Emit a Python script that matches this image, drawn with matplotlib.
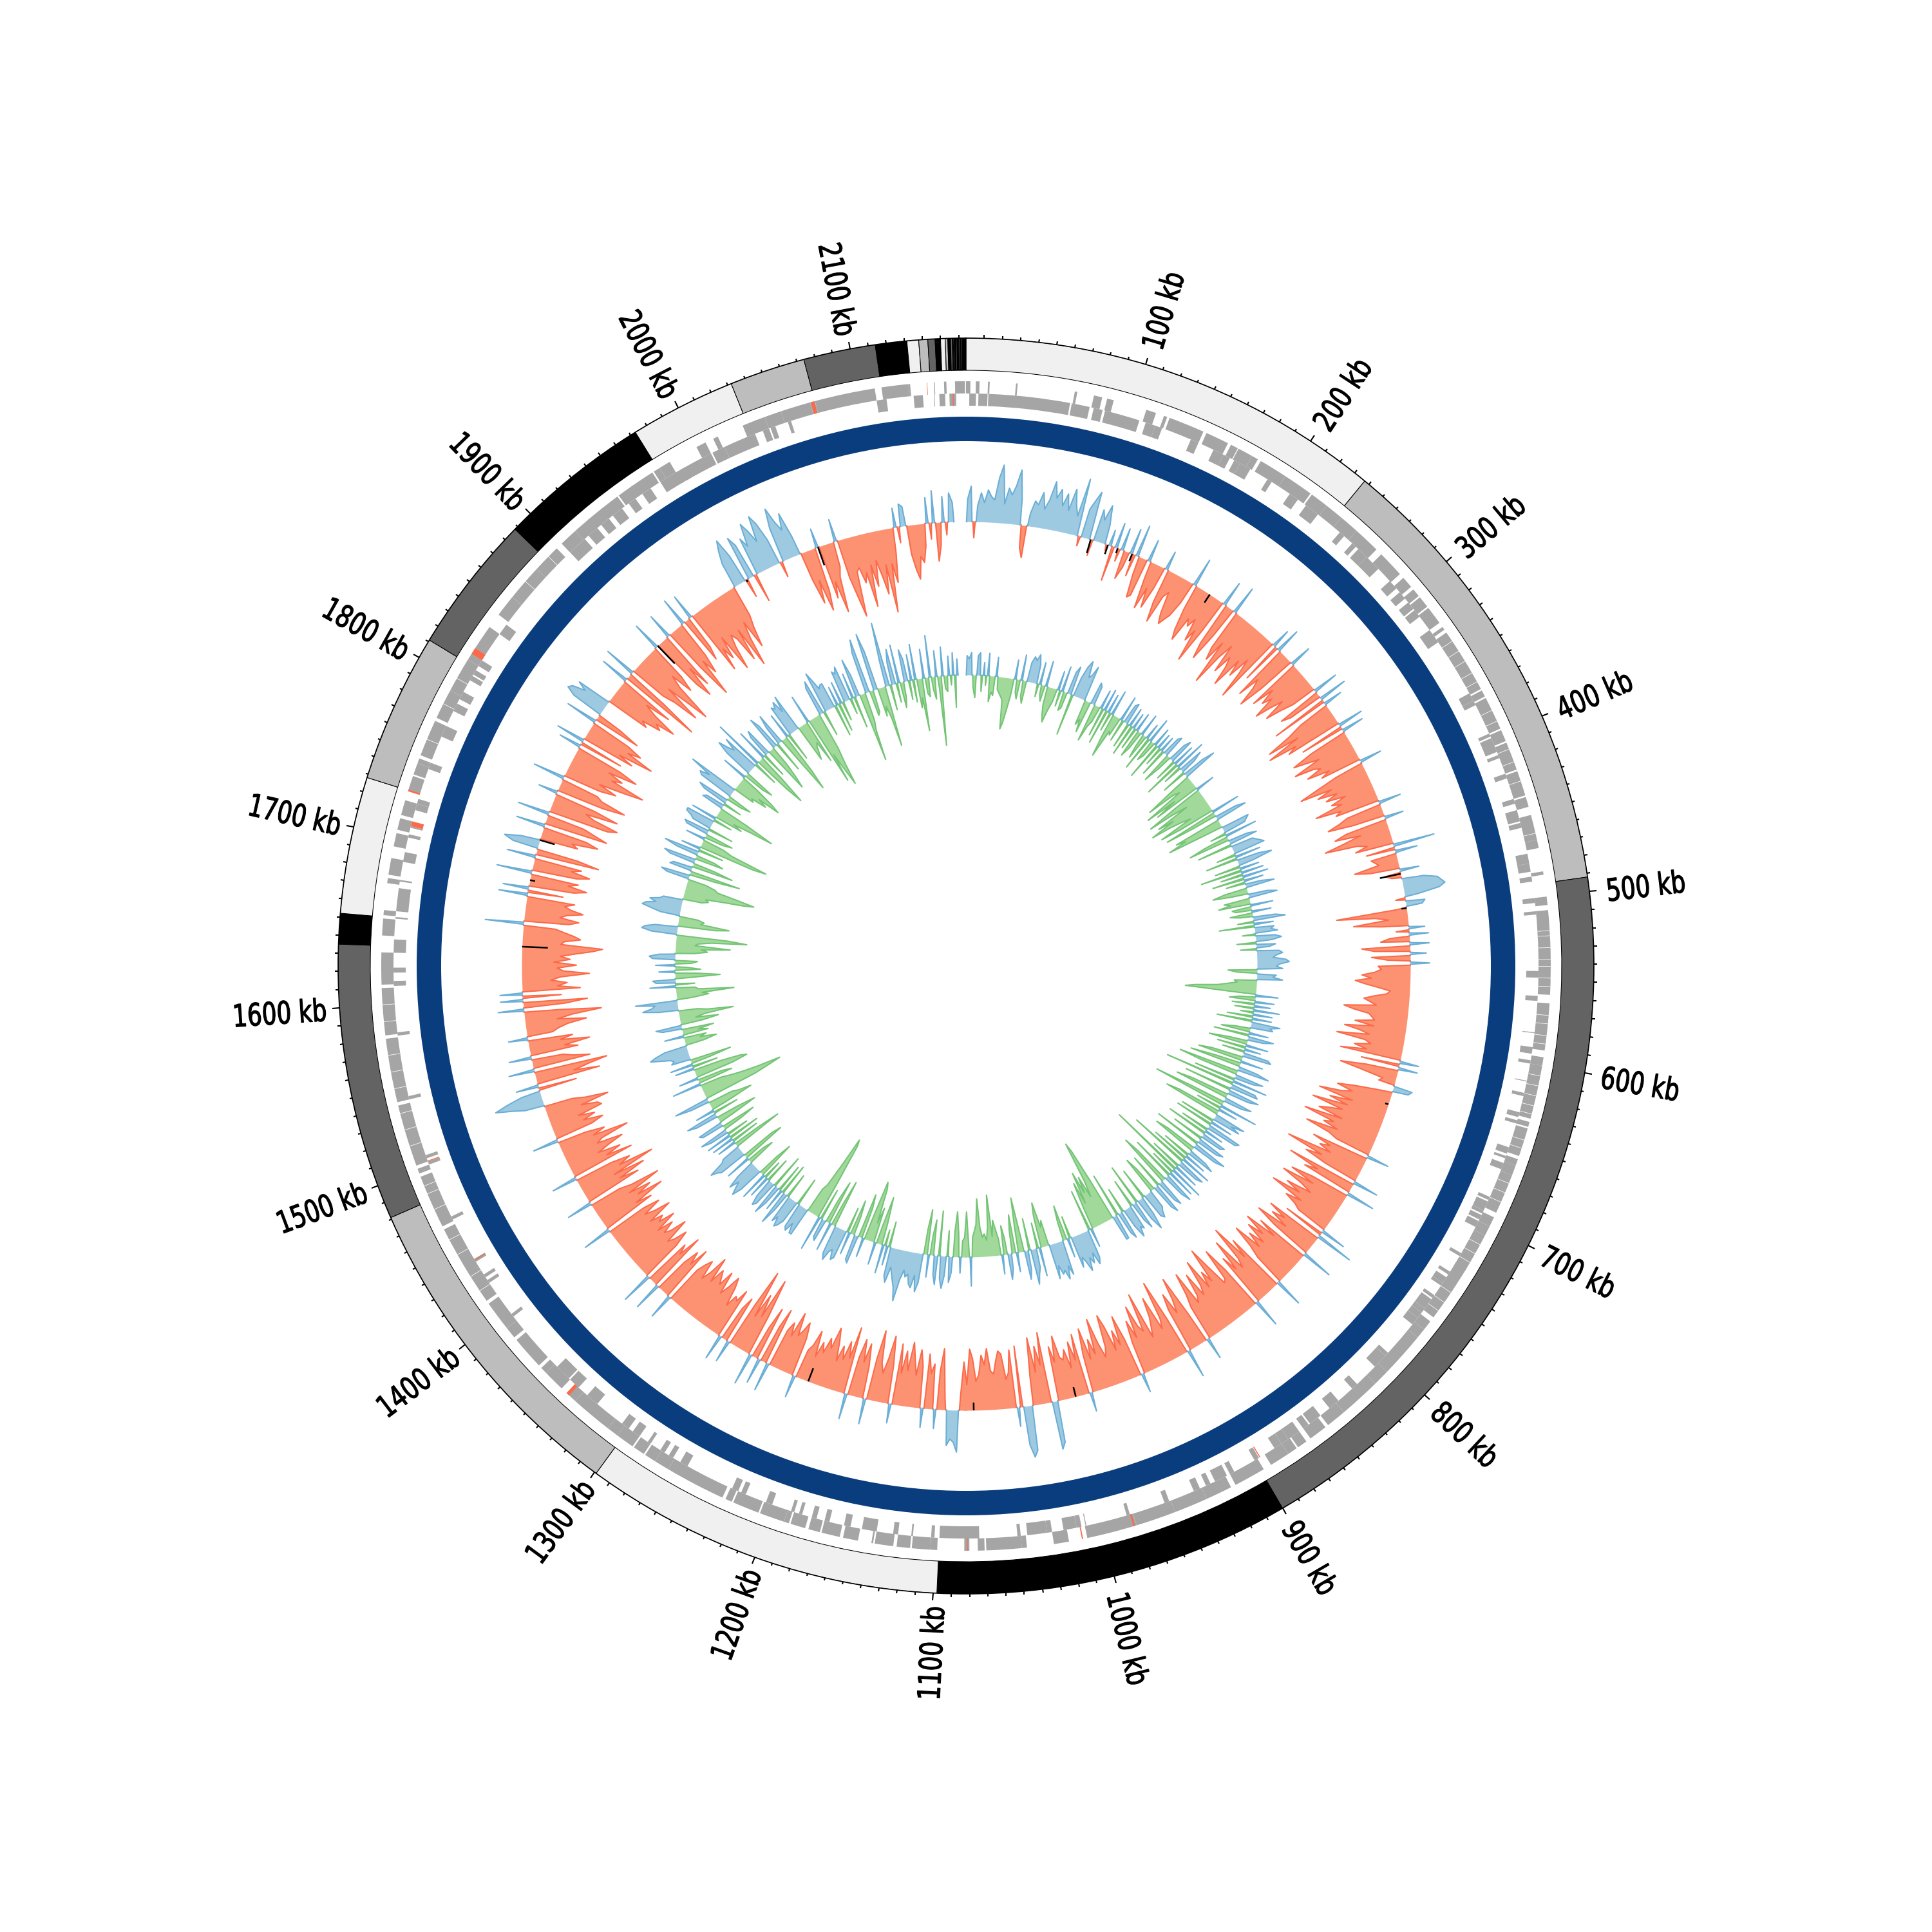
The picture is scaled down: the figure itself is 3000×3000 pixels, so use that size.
import numpy as np
import matplotlib
matplotlib.use("Agg")
import matplotlib.pyplot as plt
from matplotlib.font_manager import FontProperties
from matplotlib.patheffects import AbstractPathEffect
from matplotlib.textpath import TextPath
from matplotlib.transforms import Affine2D

genome_kb = 2164
bin_kb = 2.5

# contigs, kb
contig_start = [0, 237, 492, 900, 1098, 1299, 1481, 1635, 1652, 1728, 1811, 1888, 1973, 2032, 2074, 2114, 2131.5, 2138,
                2143, 2147, 2150, 2152.6, 2154, 2155.5, 2156.5, 2157, 2157.5, 2158.5, 2159, 2160, 2160.5, 2161, 2161.5, 2162]
contig_color = ["#f0f0f0", "#bdbdbd", "#636363", "black", "#f0f0f0", "#bdbdbd", "#636363", "black", "#f0f0f0", "#bdbdbd",
                "#636363", "black", "#f0f0f0", "#bdbdbd", "#636363", "black", "#f0f0f0", "#bdbdbd",
                "#636363", "black", "#f0f0f0", "#bdbdbd", "black", "#636363", "black", "#bdbdbd", "black", "#f0f0f0",
                "black", "#bdbdbd", "#636363", "black", "#bdbdbd", "black"]

# genes, (start kb, end kb)
genes_outer = [(0,2.6),(5.8,8),(13,14),(29.5,30.5),(64.5,66),(76,81),(84,88),(108,114),(119,121),(122.5,144),(146,160),
    (162,166.5),(167,176),(176,180),(182,199),(199,217),(218,229),(229,240),(240,252),(252,268),(272,288),(291,298),
    (300,305),(306,313),(314,325),(328,330),(332,371),(372,376),(377,397),(398,405),(406,423),(424,439),(440,446),
    (451,457),(456,466),(466,471),(485,487),(500,505),(508,558),(563,591),(595,600),(600,632),(634,637),(638,655),
    (657,661),(661,667),(667,691),(694,700),(700,706),(706,730),(728,763),(766,772),(772,778),(778,805),(805,815),
    (815,840),(840,852),(854,865),(868,874),(875,881),(881,893),(898,917),(920,936),(936,956),(956,980),(980,1010),
    (1021,1030),(1046,1049),(1049,1070),(1071,1075),(1080,1083),(1099,1103),(1103,1114),(1115,1123),(1125,1136),
    (1137,1138),(1146,1155),(1157,1168),(1169,1176),(1178,1187),(1188,1191),(1191,1206),(1207,1223),(1224,1228),
    (1230,1266),(1266,1275),(1275,1282),(1283,1290),(1291,1302),(1302,1309),(1309,1334),(1334,1341),(1345,1358),
    (1358,1362),(1364,1384),(1386,1393),(1393,1411),(1413,1462),(1464,1496),(1498,1501),(1503,1540),(1542,1580),
    (1582,1610),(1612,1631),(1641,1651),(1653,1656),(1672,1675),(1677,1687),(1694,1702),(1704,1711),(1713,1722),
    (1728,1737),(1738,1745),(1745,1748),(1750,1772),(1774,1792),(1792,1813),(1813,1817),(1817,1821),(1821,1836),
    (1845,1858),(1858,1880),(1880,1897),(1901,1912),(1912,1923),(1922,1933),(1932,1944),(1945,1955),(1954,1969),
    (1970,1974),(1974,1981),(1999,2005),(2010,2013),(2029,2038),(2037,2043),(2043,2053),(2053,2071),(2071,2074),
    (2074,2110),(2114,2130),(2130,2131),(2145,2145.5),(2151,2152.4),(2157.5,2163.4)]
genes_inner = [(2,6),(7.5,13),(13.5,63),(64,75),(77.5,83),(84.5,106),(110,116),(116,120.4),(139,144),(154,160.6),
    (160.6,165),(168,172),(172,179),(191,194),(207,213),(219,228),(245,248.5),(255,258),(260,267),(267,277),(287,293),
    (296,301),(304,309),(310,315),(325,331),(330,334),(370,375),(375,378),(397,399),(400,409),(411,413),(423,426),
    (439,442),(446,453),(454,457),(473,479),(479,484),(487,490),(500,503),(508,510),(544,548),(559,562),(581,581.5),
    (590,594),(598,600),(610.5,611),(618,620),(630,633),(635,637),(652,656),(657.5,659),(662,666),(684,686),(687,693),
    (693,695),(696,699),(700,704),(722,724),(735,737),(739,743),(743,745),(752,754),(755,762),(762,765),(765,769),
    (769,774),(796.5,799),(799,808),(823,827),(838,845),(852,860),(861,865),(868,876),(876,881),(881,886),(897,900),
    (914,917),(919,927),(930,933),(937,941),(957,960),(982,984),(1009,1009.5),(1012,1015),(1015,1023),(1030,1033),
    (1033,1045),(1049,1051),(1074,1082),(1082,1098),(1101,1103),(1114,1115),(1123,1126),(1136,1145),(1152,1156),
    (1165,1168),(1173,1176),(1182,1184),(1187,1189),(1201,1205),(1218,1221),(1223,1227),(1257,1262),(1267,1270),
    (1273,1276),(1283,1285),(1291,1296),(1299,1304),(1323,1331),(1338,1345),(1346,1356),(1351,1352.5),(1396,1398),
    (1421,1423),(1425,1427),(1436,1438),(1465,1467),(1501,1503),(1505,1507),(1542,1544),(1581,1583),(1611,1614),
    (1619,1622),(1631,1639),(1651.5,1652.5),(1656,1670),(1674,1675),(1686,1692),(1701,1703),(1707,1708),(1718,1722),
    (1722,1725),(1744,1748),(1765,1772),(1782,1787),(1790,1795),(1803,1806),(1807,1810),(1813,1817),(1836,1843),
    (1901,1913),(1916,1923),(1926,1932),(1935,1942),(1947,1952),(1957,1963),(1970,1976),(1975,1982),(1981,1987),
    (1984,2005),(2006,2014),(2014,2034),(2039,2043),(2044,2047),(2055,2057),(2110,2116),(2132.4,2138),(2144.6,2145),
    (2147.9,2151.4),(2154,2158)]
red_outer = [(2071.5,2073.5),(1817,1821),(1727.5,1728.5),(1339,1341),(1012.5,1013.2),(981,982),(1081,1081.5),(2140.8,2141.1)]
red_inner = [(1708,1711),(1503,1503.5),(1437,1437.5),(896,896.6),(2156,2156.5)]
# thin white breaks between neighbouring genes on the outer strand
gene_breaks = [338,345,352,360,366,385,392,410,418,430,462,520,523,530,537,541,548,553,570,575,582,587,606,612,618,624,
    629,645,650,672,678,684,712,718,724,745,752,758,1420,1430,1445,1455,1475,1485,1490,1515,1525,1535,1550,1560,1570,
    1590,1600,1760,1783,1800,1870,1890]

# outer skew track, one value per 2.5 kb (+ blue, - red)
skew_outer = [
    35,55,-25,25,45,30,50,40,35,70,90,30,55,45,60,85,40,-35,-50,20,40,35,55,30,45,75,50,65,40,60,35,70,45,30,90,-15,45,60,75,-25,
    50,35,60,30,-10,25,-55,40,-20,35,-45,-25,40,-35,50,-30,-65,-60,35,-30,-75,-40,-70,-35,30,-55,-85,-40,-30,-65,-80,-70,-60,-35,45,-40,-75,-90,-50,-60,
    -45,-80,-60,-110,-55,40,-70,-95,-50,45,-65,-85,-50,-120,-70,-45,-90,-60,-75,-105,-55,-80,-45,-70,-110,30,-65,40,-90,-55,-70,-100,-60,35,-85,-50,-75,-60,-95,-70,
    -50,-85,-60,-40,40,-70,-55,45,-90,30,-50,-75,-115,-65,-120,-75,-90,40,-70,35,-60,-95,-75,-55,-100,-70,-60,-85,-50,-65,35,-45,-80,-110,-60,-85,-55,-75,-45,-70,
    -55,-100,-60,-70,35,-55,-70,-90,-50,30,-65,-85,-45,-75,-105,-55,-40,-60,65,-45,35,-40,-35,-30,-70,-45,30,-25,-15,35,55,60,65,55,20,-15,30,25,-15,-110,
    -50,-30,-85,-40,25,-20,30,-30,-45,30,-75,-55,25,-60,-35,30,-50,-45,-55,-75,-60,-85,-70,-50,-30,-35,-55,-70,-60,-50,-100,-85,-60,-55,-50,-80,-50,-95,-70,-55,
    -105,-60,-50,-75,-55,-95,30,-60,30,-50,-90,-55,-20,-25,30,25,-20,-60,-85,-60,-75,-110,-55,-90,-60,-115,-65,-85,-100,-60,-120,-70,-85,-60,-110,-70,-55,35,-90,-60,
    -75,-55,-125,-65,-90,-55,40,-110,-60,-80,45,-60,-95,-55,-105,-70,-50,-90,-65,-110,-55,-80,-60,-50,40,-65,60,-90,-60,-80,-50,-100,-65,50,-85,-55,-105,-70,-95,-60,
    -85,-60,-105,-70,-50,45,-95,-65,-125,-70,-55,-110,-60,-85,45,-70,-110,-60,-55,-90,-125,-70,-90,-65,-115,-75,-60,-100,-65,-55,-110,-75,-55,35,-50,-115,-80,-60,-95,-70,
    45,-60,-125,-65,-50,-105,-75,-60,-45,-120,-60,-70,-105,-55,-85,-50,30,-60,-100,-55,-80,-50,-90,-110,-60,-45,-70,-110,-55,-80,-50,-100,-60,30,-95,-55,-85,-45,-75,-60,
    -65,-100,-60,-85,65,75,-110,-60,-90,-50,-105,-45,70,80,60,-95,30,-90,-55,-45,-85,-90,-75,-55,-60,-95,-70,-85,-55,-45,-80,-95,-40,-75,-25,65,50,45,55,-20,
    -95,-60,30,-70,-55,-85,30,-65,-90,-50,-75,-100,-55,-85,-50,-95,30,-60,-105,-70,-45,-60,-110,-65,40,-50,-85,-55,-90,-60,40,-105,-55,-80,-50,-70,-45,-75,-95,-60,
    -75,-50,-65,-40,-80,-55,-45,35,-60,-85,-70,-60,-95,-55,-75,-60,45,-90,-60,40,-85,-50,50,-65,-125,-60,-95,-55,-130,-70,35,-75,-55,40,-80,-60,-65,-45,-75,-90,
    -70,-55,-90,-65,-75,-85,-60,-100,-70,-55,-85,-75,-60,40,-90,-60,-80,-55,45,-95,-60,-75,50,-65,-90,-70,-60,-100,-75,-65,-85,-60,-95,-70,-80,-60,-100,-75,-60,-90,
    -65,45,-85,-60,-110,-70,-95,-60,-115,-70,-50,40,-90,-60,-105,-55,-125,-70,-90,-60,40,-100,-60,-85,-50,-70,-95,-55,-65,-110,-55,-75,-45,40,-60,-80,-50,-70,-45,-85,
    -80,-55,-100,-65,-45,30,50,75,55,30,-60,35,-100,-60,-85,-115,40,-90,-65,-50,35,-75,-55,-95,-50,-70,30,-40,-50,-65,-95,-50,-75,-120,-55,40,-65,-100,35,-60,
    35,-90,-55,-70,-45,-60,-105,-65,-55,-85,-50,-75,-60,-85,-110,-125,-60,-65,-90,-80,-65,-50,60,-70,-85,-55,-65,-90,-70,-60,-75,45,-55,40,-70,-90,-60,-75,55,-70,
    -90,-60,-75,45,-100,-65,40,55,30,-60,-50,-90,-70,45,-100,-80,-60,50,-95,-110,-70,-55,-105,-65,30,-75,-110,-70,-60,50,-60,-85,-55,-95,-125,-70,-85,-60,-105,-75,
    35,-70,45,-85,-60,-115,-70,-90,-65,50,-75,-40,50,65,60,40,55,-70,-60,-90,-80,-110,-70,-50,-90,45,-130,-70,50,-60,-80,-120,-60,-95,-130,-70,-50,-85,-60,45,
    -85,-110,-60,-95,40,-70,-125,-65,-90,-60,45,-75,-55,40,-105,-70,-90,-55,-115,-80,-60,-70,-110,-60,-125,-80,-55,-100,-70,-50,40,60,75,45,-30,70,55,-45,60,45,
    80,65,45,85,70,40,-25,55,85,60,45,70,30,-45,-85,-50,-100,-70,30,-85,-60,-110,-55,-40,35,-60,-95,-125,-55,-50,-75,-60,-115,-50,-85,-45,-70,-100,-55,-130,
    -55,-85,-40,30,-25,35,30,-45,-70,-85,-50,-60,-35,40,-25,50,-60,-35,40,-20,45,30,0,0,0,0]

# short black marks on the outer track (kb, depth)
black_kb = [98, 112, 120, 132, 200, 469, 496, 650, 996, 1076, 1207, 1638, 1690, 1722, 1900, 1986, 2047]
black_depth = [-22, -15, -8, -12, -15, -33, -8, -5, -15, -12, -22, -40, -8, -24, -38, -4, -30]

# inner skew track, one value per 2.5 kb (+ blue, - green)
skew_inner = [
    30,25,35,-20,-35,30,35,-25,20,-15,35,-40,-25,-30,30,-20,-25,-30,-35,-80,-70,-50,-25,30,-20,-30,40,-25,-35,30,40,35,45,30,-20,35,-15,-25,40,-30,
    -45,-55,-35,-20,30,-25,40,-30,-25,35,45,-65,30,50,60,35,40,55,-40,-30,-50,35,30,-60,-35,-25,30,-45,35,-55,30,-30,40,-35,-70,-25,-30,40,-35,30,
    35,-40,30,-50,25,-35,30,-45,-30,35,-20,-40,25,-55,40,-35,-25,30,-60,25,-30,25,-45,30,35,-50,-25,30,40,-35,35,-60,50,-30,40,25,-40,35,55,-30,
    -80,-35,-25,-90,-40,-75,30,-45,-95,-55,-30,-85,-60,-100,-70,-50,-35,-90,-55,45,-85,-40,35,50,-75,-60,-90,-30,45,40,35,-25,50,-40,-65,30,45,-55,35,40,
    45,50,-30,40,-50,35,55,25,-40,30,-65,35,-35,40,-50,30,-30,25,45,-35,-55,-25,30,45,-40,-30,-50,35,-30,-25,30,-35,-20,35,50,-25,30,-55,30,25,
    35,-20,30,40,25,-30,30,20,-25,35,40,30,25,45,50,35,30,40,-45,-30,30,25,40,-35,-30,-45,-60,-95,-110,-40,35,-25,-40,30,-35,25,-30,40,-20,30,
    -40,30,-55,45,30,35,-25,-45,30,-55,40,25,-30,-60,35,-45,25,-35,40,45,-50,-70,35,-40,-80,30,50,-95,-60,45,30,-65,55,-110,40,45,-75,50,35,-60,
    -85,45,30,-55,-115,60,-40,30,-70,-90,50,30,45,-55,35,-60,55,50,-45,30,-65,40,35,-50,45,35,-75,55,40,-50,-70,30,45,-45,35,-60,50,-95,45,35,
    -50,40,-120,55,-40,45,-70,50,35,-60,-85,45,35,-55,50,40,-40,-60,30,35,45,40,-50,30,55,35,-65,45,30,-45,40,35,50,30,-40,45,35,-70,40,40,
    -60,-120,-135,-70,-45,-80,-55,-90,-40,-75,-35,30,-65,45,55,35,50,40,60,45,35,50,-35,30,-55,-30,55,40,60,45,50,35,55,-40,-30,-70,-50,45,-40,30,
    40,55,-50,30,45,-30,-85,-40,30,-60,-35,25,40,-25,-45,30,-25,-40,-55,-30,-95,-45,-25,-35,-30,-45,-90,-50,-40,-30,45,-20,-70,-30,-25,25,-35,-70,-40,25,
    40,-40,30,50,35,-70,45,30,-55,-30,35,-70,-40,45,60,35,55,50,35,40,30,45,80,60,50,40,30,55,45,-40,30,-25,45,-35,-75,-30,35,-55,-30,-85,
    -95,-40,30,-50,-70,45,40,-30,-55,35,-40,45,50,35,40,55,45,-75,-35,45,-70,-40,35,30,-50,55,-60,-125,-135,-90,-50,-40,45,45,30,45,40,-45,35,45,
    50,35,45,-40,30,55,-50,35,-45,30,50,-55,40,45,30,-40,35,-30,45,-60,-35,40,55,45,35,50,30,-45,-30,40,-70,-55,45,50,60,35,30,-80,-40,30,
    -45,35,-50,40,-35,30,45,-30,-55,35,40,-25,-65,-35,35,50,-40,30,-30,-70,-50,-40,30,55,-85,-110,-130,-95,-70,-50,-35,45,-55,-40,30,-60,-85,-75,-45,30,
    -40,35,-30,-65,30,25,30,45,60,50,35,-30,-50,-25,-35,30,-40,-25,-50,30,40,-35,-60,-25,-40,-85,-45,-30,30,55,40,35,65,-25,-50,-40,-90,-35,-30,40,
    -30,30,35,-25,-70,-35,25,-40,-20,30,-25,-35,35,40,25,-30,-50,-40,-85,-30,-35,-55,-110,-80,40,55,50,35,-60,-80,-35,-40,-30,30,45,60,55,40,50,35,
    30,-30,-40,-35,-65,-95,-110,-85,-50,-45,-30,35,45,-40,-80,35,30,-65,-35,40,50,-45,-30,35,55,-40,30,-90,-110,-50,-35,30,-30,-45,35,40,-40,30,35,45,
    45,-30,40,-45,-30,-60,-95,-50,35,30,-30,40,50,-25,-40,55,60,45,80,-35,-30,-55,-40,-75,-60,-30,40,-35,-50,45,65,50,40,60,-40,80,-60,-89,-45,50,
    -40,35,45,-75,-60,-35,55,40,-50,30,50,-35,-97,-65,40,-45,50,45,55,35,60,-60,-50,-40,-35,-70,45,-110,-65,-95,-120,-85,-60,45,55,-40,65,50,35,40,
    40,-50,30,-45,35,-30,50,45,55,-25,40,-50,60,35,-108,-60,-45,65,85,-40,-35,90,60,-45,-30,-50,-95,40,100,-40,35,55,-30,60,-40,-25,50,35,-30,40,
    -35,55,-45,-30,-82,45,-25,-30,65,-20,-35,40,-20,-108,45,-20,-25,30,-15,35,-50,25,0,0,0,0]


class NarrowText(AbstractPathEffect):
    # squeeze the glyphs along the text direction, and thicken them a little
    def __init__(self, sx, weight):
        super().__init__()
        self.sx = sx
        self.weight = weight

    def draw_path(self, renderer, gc, tpath, affine, rgbFace=None):
        gc0 = renderer.new_gc()
        gc0.copy_properties(gc)
        gc0.set_linewidth(self.weight)
        gc0.set_foreground("black")
        renderer.draw_path(gc0, tpath, Affine2D().scale(self.sx, 1) + affine, rgbFace)
        gc0.restore()


def rad(kb):
    return np.radians(np.asarray(kb, dtype=float) / genome_kb * 360)


def draw_gene_bars(ax, genes, r0, r1, color):
    s = np.array([g[0] for g in genes])
    e = np.array([g[1] for g in genes])
    ax.bar(rad((s + e) / 2), r1 - r0, width=rad(e - s), bottom=r0, color=color, linewidth=0, align="center")


def draw_skew(ax, values, base, sign, fill, line):
    values = np.array(values, dtype=float)
    kb = (np.arange(len(values)) + 0.5) * bin_kb
    idx = np.where(values * sign > 0)[0]
    for run in np.split(idx, np.where(np.diff(idx) > 1)[0] + 1):
        x = np.r_[kb[run[0]] - 0.35 * bin_kb, kb[run], kb[run[-1]] + 0.35 * bin_kb]
        y = np.r_[0, values[run], 0]
        ax.fill_between(rad(x), base, base + y, color=fill, linewidth=0, zorder=2)
        ax.plot(rad(x), base + y, color=line, lw=0.5, zorder=3)


fig = plt.figure(figsize=(10, 10), dpi=300)
ax = fig.add_axes([0.175, 0.175, 0.65, 0.65], projection="polar")
ax.set_theta_zero_location("N")
ax.set_theta_direction(-1)
ax.set_rlim(0, 975)
ax.set_yticks([])
ax.grid(False)
ax.spines["polar"].set_linewidth(0.4)

# ticks every 10 kb, longer every 100 kb
major = np.arange(100, genome_kb, 100)
minor = np.arange(10, genome_kb, 10)
ax.set_xticks(rad(major))
ax.set_xticks(rad(minor), minor=True)
ax.set_xticklabels([])
ax.tick_params(axis="x", which="major", bottom=False, top=True, length=2.6, width=0.5, direction="out")
ax.tick_params(axis="x", which="minor", bottom=False, top=True, length=1.1, width=0.5, direction="out")

label_size = 11.5
label_squeeze = 0.75
label_font = FontProperties(family="DejaVu Sans", size=label_size)
for k in major:
    deg = k / genome_kb * 360
    text = f"{k} kb"
    if deg < 180:
        rot, r = 90 - deg, 1001
    else:
        # text reads towards the circle, so it starts further out
        width = TextPath((0, 0), text, size=label_size, prop=label_font).get_extents().width * 300 / 72
        rot, r = 270 - deg, 1001 + width * label_squeeze
    ax.text(rad(k), r, text, rotation=rot, rotation_mode="anchor", ha="left", va="center_baseline",
            fontproperties=label_font, path_effects=[NarrowText(label_squeeze, 0.3)])

# contig ring
start = np.array(contig_start, dtype=float)
end = np.r_[start[1:], genome_kb]
ax.bar(rad((start + end) / 2), 50, width=rad(end - start), bottom=925, color=contig_color,
       edgecolor="black", linewidth=0.25, align="center")

# genes on both strands
draw_gene_bars(ax, genes_outer, 889, 908, "#a5a5a5")
draw_gene_bars(ax, genes_inner, 870, 889, "#a5a5a5")
draw_gene_bars(ax, [(b, b + 0.3) for b in gene_breaks], 889, 908, "white")
draw_gene_bars(ax, red_outer, 889, 908, "#fb6a4a")
draw_gene_bars(ax, red_inner, 870, 889, "#fb6a4a")

# solid blue ring
ax.bar(0, 38, width=2 * np.pi, bottom=815, color="#0a3d7d", linewidth=0, align="center")

draw_skew(ax, skew_outer, 690, -1, "#fc9272", "#fb6a4a")
draw_skew(ax, skew_outer, 690, 1, "#9ecae1", "#6baed6")
ax.vlines(rad(black_kb), 690, 690 + np.array(black_depth), color="black", lw=0.6, zorder=4)

draw_skew(ax, skew_inner, 452, -1, "#a1d99b", "#74c476")
draw_skew(ax, skew_inner, 452, 1, "#9ecae1", "#6baed6")

fig.savefig("out.png", dpi=300, facecolor="white")
